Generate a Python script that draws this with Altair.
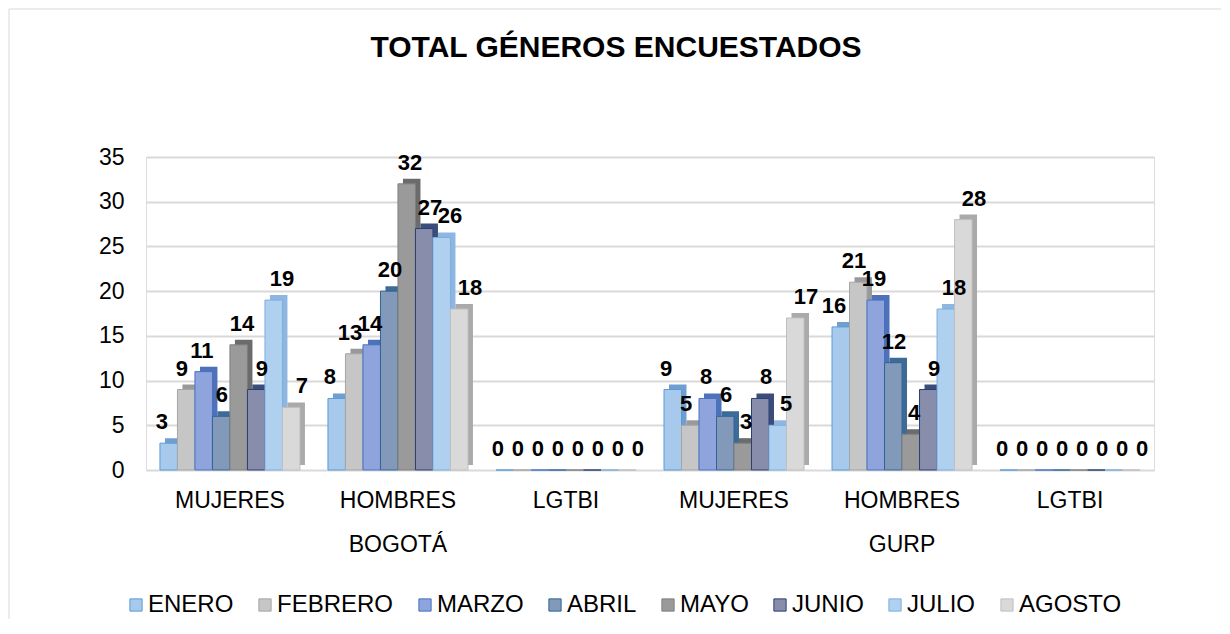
import altair as alt
import pandas as pd

FONT = "Liberation Sans"

title_text = "TOTAL GÉNEROS ENCUESTADOS"
months = ["ENERO", "FEBRERO", "MARZO", "ABRIL", "MAYO", "JUNIO", "JULIO", "AGOSTO"]
regions = ["BOGOTÁ", "GURP"]
genders = ["MUJERES", "HOMBRES", "LGTBI"]
y_ticks = [0, 5, 10, 15, 20, 25, 30, 35]

bogota_mujeres = [3, 9, 11, 6, 14, 9, 19, 7]
bogota_hombres = [8, 13, 14, 20, 32, 27, 26, 18]
bogota_lgtbi = [0, 0, 0, 0, 0, 0, 0, 0]
gurp_mujeres = [9, 5, 8, 6, 3, 8, 5, 17]
gurp_hombres = [16, 21, 19, 12, 4, 9, 18, 28]
gurp_lgtbi = [0, 0, 0, 0, 0, 0, 0, 0]

fill_colors = ["#A7C9EC", "#C6C6C6", "#8FA4DC", "#8399B9", "#9A9A9A", "#878DAB", "#B0D0F0", "#D9D9D9"]
side_colors = ["#6F9FD1", "#999999", "#4E71B9", "#3D6B98", "#6B6B6B", "#3B4D7B", "#8DB7E1", "#AAAAAA"]
edge_colors = ["#5B9BD5", "#A5A5A5", "#4472C4", "#2F6497", "#7F7F7F", "#2B3F73", "#7DAEE0", "#BFBFBF"]

series = {
    "BOGOTÁ": [bogota_mujeres, bogota_hombres, bogota_lgtbi],
    "GURP": [gurp_mujeres, gurp_hombres, gurp_lgtbi],
}

rows = []
for region in regions:
    for gender, values in zip(genders, series[region]):
        for m, v, sc in zip(months, values, side_colors):
            rows.append({"key": f"{region}|{gender}", "region": region, "gender": gender,
                         "month": m, "value": v, "side": sc})
df = pd.DataFrame(rows)
keys = [f"{r}|{g}" for r in regions for g in genders]

region_df = pd.DataFrame({"key": [f"{r}|HOMBRES" for r in regions], "region": regions})

W, H = 1008, 313
DEPTH = 5
BAND = 140  # bandwidth of each group with the paddings below

x_enc = alt.X("key:N", sort=keys,
              scale=alt.Scale(domain=keys, paddingInner=0.1667, paddingOuter=0.083),
              axis=alt.Axis(title=None, labelExpr="split(datum.label, '|')[1]", domain=False,
                            ticks=False, labelFontSize=23, labelFont=FONT, labelColor="#000000",
                            labelPadding=19, labelAngle=0, grid=False))
xoff_enc = alt.XOffset("month:N", sort=months,
                       scale=alt.Scale(domain=months, paddingInner=0, paddingOuter=0))
xoff_side = alt.XOffset("month:N", sort=months,
                        scale=alt.Scale(domain=months, paddingInner=0, paddingOuter=0,
                                        range=[DEPTH, BAND + DEPTH]))
y_enc = alt.Y("value:Q", scale=alt.Scale(domain=[0, 35]),
              axis=alt.Axis(values=y_ticks, title=None, domain=False, ticks=False,
                            labelPadding=22, labelFontSize=23, labelFont=FONT,
                            labelColor="#000000", gridColor="#D9D9D9", gridWidth=2))

base = alt.Chart(df)

side = base.mark_bar(yOffset=-DEPTH).encode(
    x=x_enc, xOffset=xoff_side, y=y_enc,
    color=alt.Color("side:N", scale=None),
)

legend = alt.Legend(title=None, orient="none", legendX=-22, legendY=436, direction="horizontal",
                    columns=8, symbolType="square", symbolSize=150, symbolStrokeWidth=1,
                    labelFontSize=24, labelFont=FONT, labelColor="#000000", labelOffset=0,
                    columnPadding=19)

front = base.mark_bar(strokeWidth=1).encode(
    x=x_enc, xOffset=xoff_enc, y=y_enc,
    color=alt.Color("month:N", sort=months, scale=alt.Scale(domain=months, range=fill_colors),
                    legend=legend),
    stroke=alt.Stroke("month:N", sort=months, scale=alt.Scale(domain=months, range=edge_colors),
                      legend=legend),
)

labels = base.mark_text(font=FONT, fontSize=22, fontWeight="bold", baseline="alphabetic",
                        dy=-14, dx=2, color="#000000").encode(
    x=x_enc, xOffset=xoff_enc, y=y_enc, text="value:Q",
)

region_labels = alt.Chart(region_df).mark_text(font=FONT, fontSize=23, baseline="middle",
                                                color="#000000").encode(
    x=alt.X("key:N", sort=keys), y=alt.value(388), text="region:N",
)

one = pd.DataFrame({"t": [title_text]})
title = alt.Chart(one).mark_text(font=FONT, fontSize=30, fontWeight="bold", baseline="alphabetic",
                                 align="center", color="#000000").encode(
    x=alt.value(470), y=alt.value(-100), text="t:N",
)

frame_color = "#D9D9D9"
left = alt.Chart(one).mark_rule(color=frame_color, strokeWidth=1).encode(
    x=alt.value(-137), y=alt.value(-148), y2=alt.value(462))
top = alt.Chart(one).mark_rule(color=frame_color, strokeWidth=1).encode(
    x=alt.value(-137), x2=alt.value(1075), y=alt.value(-148))

chart = alt.layer(side, front, labels, region_labels, title, left, top).resolve_scale(
    xOffset="independent"
).properties(
    width=W, height=H, padding=0
).configure_view(stroke=None).configure(font=FONT, background="#FFFFFF")

chart.save("out.html", embed_options={"renderer": "svg", "actions": False})
